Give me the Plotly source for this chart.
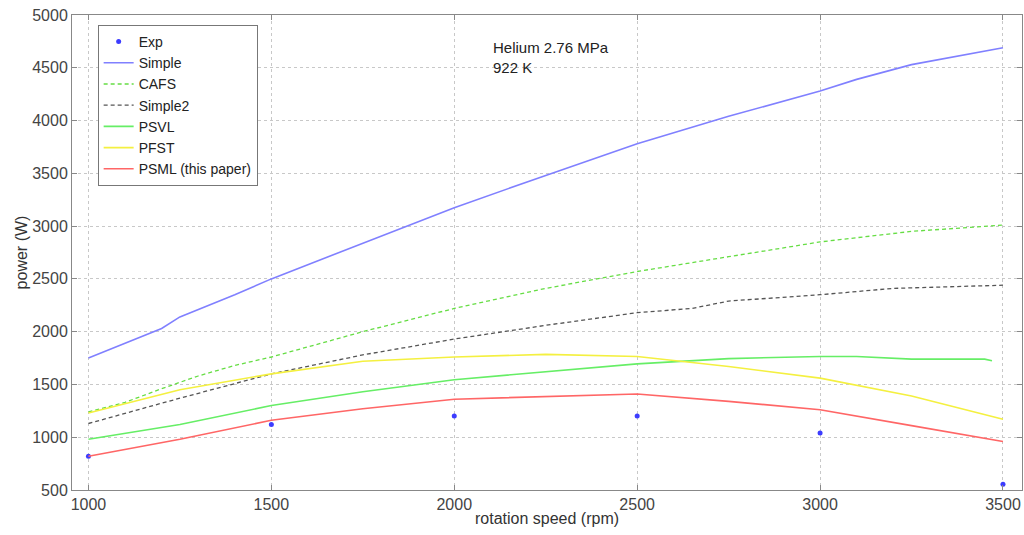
import plotly.graph_objects as go

# Experimental points
exp_rpm = [1000, 1500, 2000, 2500, 3000, 3500]
exp_power = [820, 1120, 1200, 1200, 1040, 555]

# Simple
simple_rpm = [1000, 1100, 1200, 1250, 1300, 1400, 1500, 1750, 2000, 2250, 2500, 2750, 3000, 3100, 3250, 3500]
simple_power = [1750, 1890, 2030, 2140, 2210, 2350, 2500, 2840, 3175, 3480, 3780, 4040, 4280, 4390, 4530, 4690]

# CAFS
cafs_rpm = [1000, 1100, 1200, 1300, 1400, 1500, 1750, 2000, 2250, 2500, 2750, 3000, 3250, 3500]
cafs_power = [1240, 1330, 1460, 1580, 1680, 1760, 2000, 2220, 2410, 2570, 2710, 2850, 2950, 3010]

# Simple2
simple2_rpm = [1000, 1250, 1500, 1750, 2000, 2250, 2500, 2650, 2750, 3000, 3200, 3500]
simple2_power = [1130, 1370, 1600, 1780, 1930, 2060, 2180, 2220, 2290, 2350, 2410, 2440]

# PSVL
psvl_rpm = [1000, 1250, 1500, 1750, 2000, 2250, 2500, 2750, 3000, 3100, 3250, 3450, 3470]
psvl_power = [980, 1120, 1300, 1430, 1545, 1620, 1695, 1745, 1765, 1765, 1740, 1740, 1725]

# PFST
pfst_rpm = [1000, 1250, 1500, 1750, 2000, 2250, 2500, 2750, 3000, 3250, 3500]
pfst_power = [1230, 1450, 1600, 1720, 1760, 1785, 1765, 1670, 1560, 1390, 1170]

# PSML (this paper)
psml_rpm = [1000, 1250, 1500, 1750, 2000, 2250, 2500, 2750, 3000, 3250, 3500]
psml_power = [820, 980, 1160, 1270, 1360, 1385, 1410, 1340, 1260, 1110, 960]

x_ticks = [1000, 1500, 2000, 2500, 3000, 3500]
y_ticks = [500, 1000, 1500, 2000, 2500, 3000, 3500, 4000, 4500, 5000]

FONT = "Liberation Sans, Arial, Helvetica, sans-serif"

fig = go.Figure()
fig.add_trace(go.Scatter(x=exp_rpm, y=exp_power, mode="markers", name="Exp",
                         marker=dict(color="#3c3cff", size=5, symbol="circle")))
fig.add_trace(go.Scatter(x=simple_rpm, y=simple_power, mode="lines", name="Simple",
                         line=dict(color="#8080ff", width=1.6)))
fig.add_trace(go.Scatter(x=cafs_rpm, y=cafs_power, mode="lines", name="CAFS",
                         line=dict(color="#66dd44", width=1.3, dash="4px,3px")))
fig.add_trace(go.Scatter(x=simple2_rpm, y=simple2_power, mode="lines", name="Simple2",
                         line=dict(color="#555555", width=1.3, dash="4px,3px")))
fig.add_trace(go.Scatter(x=psvl_rpm, y=psvl_power, mode="lines", name="PSVL",
                         line=dict(color="#66ee66", width=1.6)))
fig.add_trace(go.Scatter(x=pfst_rpm, y=pfst_power, mode="lines", name="PFST",
                         line=dict(color="#f4f040", width=1.6)))
fig.add_trace(go.Scatter(x=psml_rpm, y=psml_power, mode="lines", name="PSML (this paper)",
                         line=dict(color="#ff6666", width=1.6)))

fig.add_annotation(x=2100, y=4600, xref="x", yref="y", text="Helium 2.76 MPa<br>922 K",
                   showarrow=False, xanchor="left", yanchor="middle", align="left",
                   font=dict(family=FONT, size=15, color="#222222"))

axis_common = dict(showline=True, linecolor="#888888", linewidth=1, mirror="ticks",
                   ticks="inside", ticklen=5, tickcolor="#888888",
                   showgrid=True, gridcolor="#c8c8c8", griddash="dot", gridwidth=1,
                   zeroline=False, automargin=False,
                   tickfont=dict(family=FONT, size=16, color="#444444"))

fig.update_layout(
    width=1024, height=535,
    margin=dict(l=72, r=2, t=15, b=45),
    paper_bgcolor="white", plot_bgcolor="white",
    font=dict(family=FONT, size=16, color="#333333"),
    xaxis=dict(range=[955, 3552], tickvals=x_ticks,
               title=dict(text="rotation speed (rpm)", standoff=0,
                          font=dict(family=FONT, size=16, color="#333333")),
               **axis_common),
    yaxis=dict(range=[500, 5000], tickvals=y_ticks,
               title=dict(text="power (W)", standoff=0,
                          font=dict(family=FONT, size=16, color="#333333")),
               **axis_common),
    legend=dict(x=0.027, y=0.979, xanchor="left", yanchor="top",
                bgcolor="white", bordercolor="#777777", borderwidth=1,
                font=dict(family=FONT, size=14, color="#222222"),
                itemwidth=30, tracegroupgap=0),
    showlegend=True,
)

fig.write_html("out.html", config={"displayModeBar": False},
               post_script="document.body.style.margin='0';document.body.style.overflow='hidden';")
